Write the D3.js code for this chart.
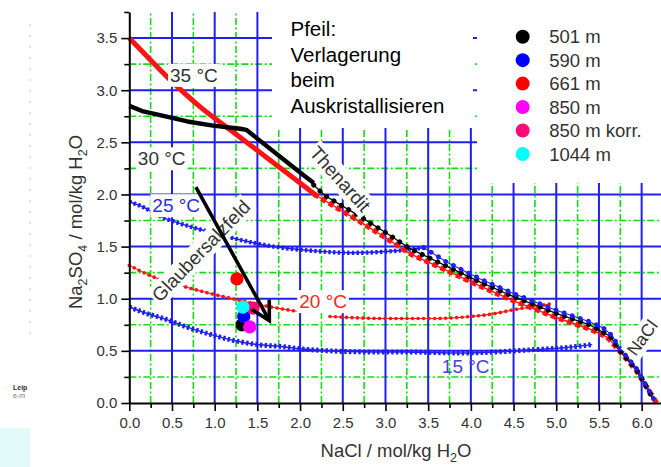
<!DOCTYPE html>
<html>
<head>
<meta charset="utf-8">
<script src="https://cdn.jsdelivr.net/npm/d3@7"></script>
<style>
  html, body { margin: 0; padding: 0; background: #fff; }
  svg { display: block; font-family: "Liberation Sans", Arial, Helvetica, sans-serif; }
</style>
</head>
<body>
<svg id="chart" width="661" height="467"></svg>
<script>
// Solubility isotherms of the system Na2SO4 – NaCl – H2O, values in mol/kg H2O
// Each point is [NaCl, Na2SO4].

// Upper (Glaubersalz / Thenardit field) parts of the warm isotherms
const iso35 = [[0, 3.5], [0.2, 3.33], [0.44, 3.13], [0.83, 2.84], [1.18, 2.62], [1.6, 2.36], [2.0, 2.11], [2.19, 1.99]];
const iso30 = [[0, 2.85], [0.15, 2.80], [0.36, 2.76], [0.68, 2.70], [0.98, 2.66], [1.30, 2.63], [1.37, 2.62], [2.0, 2.21], [2.16, 2.11]];

// Thenardit / NaCl saturation branch, one run per isotherm
const branch35 = [[2.19, 1.99], [2.7, 1.74], [3.01, 1.58], [3.29, 1.43], [3.72, 1.27], [4.11, 1.12], [4.5, 0.98], [5.0, 0.82], [5.39, 0.71], [5.6, 0.63], [5.74, 0.50], [5.94, 0.31], [6.16, 0.02]];
const branch30 = [[2.16, 2.09], [2.29, 1.99], [2.7, 1.79], [3.01, 1.63], [3.29, 1.48], [3.72, 1.31], [4.11, 1.16], [4.5, 1.02], [5.0, 0.86], [5.39, 0.75], [5.63, 0.64], [5.74, 0.51], [5.94, 0.32], [6.14, 0.03]];
const branch25 = [[3.45, 1.49], [3.72, 1.35], [4.11, 1.19], [4.5, 1.05], [5.0, 0.89], [5.39, 0.78], [5.55, 0.72], [5.65, 0.65], [5.75, 0.52], [5.94, 0.33], [6.14, 0.04]];

// Glaubersalz isotherms
const iso25 = [[0, 1.93], [0.16, 1.88], [0.36, 1.79], [0.6, 1.72], [0.85, 1.66], [1.22, 1.58], [1.69, 1.50], [2.15, 1.46], [2.6, 1.44], [3.13, 1.46], [3.45, 1.49]];
const iso20a = [[0, 1.32], [0.28, 1.21], [0.63, 1.12], [1.26, 0.99], [1.6, 0.93], [1.96, 0.88]];
const iso20b = [[2.35, 0.83], [3.0, 0.81], [3.52, 0.81], [4.0, 0.83], [4.22, 0.85], [4.54, 0.90], [4.93, 0.95]];
const iso15 = [[0, 0.92], [0.2, 0.86], [0.44, 0.80], [0.67, 0.73], [0.9, 0.67], [1.22, 0.60], [1.5, 0.56], [1.8, 0.54], [2.0, 0.52], [2.35, 0.50], [2.8, 0.49], [3.2, 0.49], [3.9, 0.48], [4.3, 0.49], [4.7, 0.51], [5.1, 0.53], [5.42, 0.56]];

// Brine samples by depth
const sampleNames  = ["501 m", "590 m", "661 m", "850 m", "850 m korr.", "1044 m"];
const sampleColors = ["#000000", "#0000ff", "#ff0000", "#ff00ff", "#ff0a78", "#00ffff"];
const sampleNaCl   = [1.32, 1.34, 1.26, 1.41, 1.45, 1.33];
const sampleNa2SO4 = [0.75, 0.83, 1.19, 0.73, 0.91, 0.92];

// Shift of the brine composition during crystallisation
const shiftArrow = [[0.78, 2.07], [1.64, 0.79]];

// Axis ticks
const xMajor = d3.range(0, 6.01, 0.5);
const xMinor = d3.range(0.25, 6.3, 0.5);
const yMajor = d3.range(0, 3.51, 0.5);
const yMinor = d3.range(0.25, 3.8, 0.5);

const noteLines = ["Pfeil:", "Verlagerung", "beim", "Auskristallisieren"];

const svg = d3.select("#chart");
const x = d3.scaleLinear().domain([0, 6.25]).range([129.3, 663]);
const y = d3.scaleLinear().domain([0, 3.75]).range([403, 12]);

const BLUE = "#1f1ff0", GREEN = "#14dc14", RED = "#ff1414";

// ---- page remnants at the left border ----
svg.append("line").attr("x1", 30).attr("x2", 30).attr("y1", 24).attr("y2", 340)
  .attr("stroke", "#d8b48e").attr("stroke-width", 1).attr("stroke-dasharray", "2,9").attr("opacity", 0.8);
svg.append("text").attr("x", 13).attr("y", 390).attr("font-size", 7).attr("font-weight", "bold").attr("fill", "#333").text("Leip");
svg.append("text").attr("x", 13).attr("y", 398).attr("font-size", 7).attr("fill", "#777").text("e-m");
svg.append("rect").attr("x", 0).attr("y", 428).attr("width", 30).attr("height", 39).attr("fill", "#e2fafa");

// ---- grid ----
const grid = svg.append("g");
const xMinorGrid = xMinor.filter(v => v > 0 && v < 6.22);
const xMajorGrid = xMajor.filter(v => v > 0);
const yMinorGrid = yMinor.filter(v => v < 3.5);
const yMajorGrid = yMajor.filter(v => v > 0);

grid.selectAll(".gv").data(xMinorGrid).join("line")
  .attr("x1", d => x(d)).attr("x2", d => x(d)).attr("y1", y(0)).attr("y2", y(3.75))
  .attr("stroke", GREEN).attr("stroke-width", 1.6).attr("stroke-dasharray", "7,2.5,2,2.5");
grid.selectAll(".gh").data(yMinorGrid).join("line")
  .attr("x1", x(0)).attr("x2", 661).attr("y1", d => y(d)).attr("y2", d => y(d))
  .attr("stroke", GREEN).attr("stroke-width", 1.6).attr("stroke-dasharray", "7,2.5,2,2.5");
grid.selectAll(".bv").data(xMajorGrid).join("line")
  .attr("x1", d => x(d)).attr("x2", d => x(d)).attr("y1", y(0)).attr("y2", y(3.75))
  .attr("stroke", BLUE).attr("stroke-width", 2);
grid.selectAll(".bh").data(yMajorGrid).join("line")
  .attr("x1", x(0)).attr("x2", 661).attr("y1", d => y(d)).attr("y2", d => y(d))
  .attr("stroke", BLUE).attr("stroke-width", 2);

// ---- isotherms ----
const line = d3.line().x(d => x(d[0])).y(d => y(d[1])).curve(d3.curveMonotoneX);
const lineLin = d3.line().x(d => x(d[0])).y(d => y(d[1]));
const curves = svg.append("g").attr("fill", "none");

function markerRun(data, color, width, gap, cap, gen) {
  curves.append("path").attr("d", (gen || lineLin)(data))
    .attr("stroke", color).attr("stroke-width", width)
    .attr("stroke-linecap", cap).attr("stroke-dasharray", "0.01," + gap);
}

// 15 °C and 25 °C: dense blue crosses
[[iso15, 5], [iso25, 4.4]].forEach(([c, w]) => {
  curves.append("path").attr("d", line(c)).attr("stroke", BLUE).attr("stroke-width", 1.5);
  curves.append("path").attr("d", line(c)).attr("stroke", BLUE).attr("stroke-width", w)
    .attr("stroke-dasharray", "2.4,2.3");
});
// 20 °C: red dots
[iso20a, iso20b].forEach(c => {
  curves.append("path").attr("d", line(c)).attr("stroke", RED).attr("stroke-width", 1.1);
  markerRun(c, RED, 3.6, 5.5, "round", line);
});
// 35 °C and 30 °C: closely spaced markers that merge into a thick line
curves.append("path").attr("d", line(iso35)).attr("stroke", RED).attr("stroke-width", 5);
curves.append("path").attr("d", lineLin(iso30)).attr("stroke", "#000").attr("stroke-width", 4.4)
  .attr("stroke-linejoin", "round");

// Saturation branch: red squares, black dots, blue dots
curves.append("path").attr("d", lineLin(branch35)).attr("stroke", RED).attr("stroke-width", 1.4);
markerRun(branch35, RED, 5.2, 8.6, "square");
curves.append("path").attr("d", lineLin(branch30)).attr("stroke", "#000").attr("stroke-width", 1.3);
markerRun(branch30, "#000", 5, 8.6, "round");
curves.append("path").attr("d", lineLin(branch25)).attr("stroke", BLUE).attr("stroke-width", 1.1);
markerRun(branch25, BLUE, 4.8, 8.6, "round");

// ---- text boxes (white background hides the grid) ----
svg.append("rect").attr("x", 272).attr("y", 0).attr("width", 201).attr("height", 128).attr("fill", "#fff");
svg.append("rect").attr("x", 477).attr("y", 0).attr("width", 184).attr("height", 183).attr("fill", "#fff");

const labels = svg.append("g");
function label(txt, xv, yv, opt) {
  const g = labels.append("g")
    .attr("transform", `translate(${x(xv)},${y(yv)}) rotate(${opt.angle || 0})`);
  const t = g.append("text").attr("font-size", opt.size || 19).attr("fill", opt.color || "#333")
    .attr("text-anchor", opt.anchor || "start").attr("dy", opt.dy || 0).text(txt);
  if (opt.bg !== false) {
    const b = t.node().getBBox();
    const p = opt.pad || 2;
    g.insert("rect", "text").attr("x", b.x - p).attr("y", b.y - p + 1)
      .attr("width", b.width + 2 * p).attr("height", b.height + 2 * p - 2).attr("fill", "#fff");
  }
}
label("35 °C", 0.477, 3.08, {});
label("30 °C", 0.10, 2.28, {});
label("25 °C", 0.27, 1.83, { color: "#2c2ce6" });
label("20 °C", 1.99, 0.91, { color: "#f42a2a" });
label("15 °C", 3.66, 0.29, { color: "#4444d8", bg: false });
label("Thenardit", 2.47, 2.15, { angle: 48, anchor: "middle", dy: "0.35em" });
label("Glaubersalzfeld", 0.84, 1.46, { angle: -46, anchor: "middle", dy: "0.35em" });
label("NaCl", 5.93, 0.44, { angle: -54, size: 17.5 });

// Note on the arrow
svg.append("text").attr("x", 290.5).attr("y", 36).attr("font-size", 20.5).attr("fill", "#000")
  .selectAll("tspan").data(noteLines).join("tspan")
  .attr("x", 290.5).attr("dy", (d, i) => i === 0 ? 0 : 25.5).text(d => d);

// ---- samples ----
const samples = sampleNames.map((n, i) => ({ n, c: sampleColors[i], nacl: sampleNaCl[i], so4: sampleNa2SO4[i] }));
svg.append("g").selectAll("circle").data(samples).join("circle")
  .attr("cx", d => x(d.nacl)).attr("cy", d => y(d.so4)).attr("r", 6.6).attr("fill", d => d.c);

// ---- arrow ----
const [a0, a1] = shiftArrow.map(p => [x(p[0]), y(p[1])]);
const ang = Math.atan2(a1[1] - a0[1], a1[0] - a0[0]);
const wing = 21, spread = Math.PI / 6.3;
const arrowPath = d3.path();
arrowPath.moveTo(a0[0], a0[1]); arrowPath.lineTo(a1[0], a1[1]);
arrowPath.moveTo(a1[0] - wing * Math.cos(ang - spread), a1[1] - wing * Math.sin(ang - spread));
arrowPath.lineTo(a1[0], a1[1]);
arrowPath.lineTo(a1[0] - wing * Math.cos(ang + spread), a1[1] - wing * Math.sin(ang + spread));
svg.append("path").attr("d", arrowPath.toString()).attr("fill", "none")
  .attr("stroke", "#000").attr("stroke-width", 3.6).attr("stroke-linejoin", "miter");

// ---- legend ----
const legend = svg.append("g").selectAll("g").data(samples).join("g")
  .attr("transform", (d, i) => `translate(522.7,${36.7 + i * 23.45})`);
legend.append("circle").attr("r", 7).attr("fill", d => d.c);
legend.append("text").attr("x", 26.5).attr("y", 6.6).attr("font-size", 18.5).attr("fill", "#333").text(d => d.n);

// ---- axes ----
function styleAxis(g) {
  g.select(".domain").attr("stroke", "#000").attr("stroke-width", 2);
  g.selectAll(".tick line").attr("stroke", "#000").attr("stroke-width", 1.6);
  g.selectAll(".tick text").attr("fill", "#333").attr("font-size", 15)
    .attr("font-family", "'Liberation Sans', Arial, sans-serif");
}
svg.append("g").attr("transform", `translate(0,${y(0)})`)
  .call(d3.axisBottom(x).tickValues(xMinor).tickSize(5).tickFormat(""))
  .call(g => { g.select(".domain").remove(); g.selectAll("line").attr("stroke", "#000").attr("stroke-width", 1.6); });
svg.append("g").attr("transform", `translate(${x(0)},0)`)
  .call(d3.axisLeft(y).tickValues(yMinor).tickSize(5).tickFormat(""))
  .call(g => { g.select(".domain").remove(); g.selectAll("line").attr("stroke", "#000").attr("stroke-width", 1.6); });
svg.append("g").attr("transform", `translate(0,${y(0)})`)
  .call(d3.axisBottom(x).tickValues(xMajor).tickFormat(d3.format(".1f")).tickSize(8).tickSizeOuter(0).tickPadding(6))
  .call(styleAxis);
svg.append("g").attr("transform", `translate(${x(0)},0)`)
  .call(d3.axisLeft(y).tickValues(yMajor).tickFormat(d3.format(".1f")).tickSize(8).tickSizeOuter(0).tickPadding(4))
  .call(styleAxis);

// Axis titles
const xt = svg.append("text").attr("x", 396).attr("y", 457).attr("text-anchor", "middle")
  .attr("font-size", 18.5).attr("fill", "#333");
xt.append("tspan").text("NaCl / mol/kg H");
xt.append("tspan").attr("font-size", 12.5).attr("dy", 5).text("2");
xt.append("tspan").attr("dy", -5).text("O");

const yt = svg.append("text").attr("transform", "translate(82,222) rotate(-90)").attr("text-anchor", "middle")
  .attr("font-size", 18.5).attr("fill", "#333");
yt.append("tspan").text("Na");
yt.append("tspan").attr("font-size", 12.5).attr("dy", 5).text("2");
yt.append("tspan").attr("dy", -5).text("SO");
yt.append("tspan").attr("font-size", 12.5).attr("dy", 5).text("4");
yt.append("tspan").attr("dy", -5).text(" / mol/kg H");
yt.append("tspan").attr("font-size", 12.5).attr("dy", 5).text("2");
yt.append("tspan").attr("dy", -5).text("O");
</script>
</body>
</html>
